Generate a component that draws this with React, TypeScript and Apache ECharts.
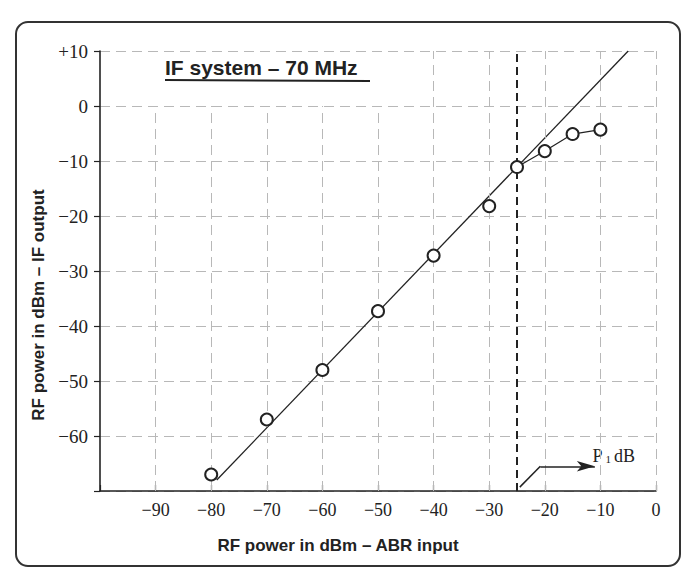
import React, { useEffect, useRef } from "react";
import * as echarts from "echarts";

// Measured points (RF input dBm, IF output dBm)
const inputDbm = [-80, -70, -60, -50, -40, -30, -25, -20, -15, -10];
const outputDbm = [-67, -57, -48, -37.3, -27.2, -18.2, -11.1, -8.2, -5.1, -4.3];
// Ideal linear response (end points of the straight line)
const linearX = [-79, -5];
const linearY = [-68, 10];
// Compression curve: indices of measured points joined by a line
const compressionFrom = 6;
// 1 dB compression point marker
const p1dbX = -25;
// arrow pointing to P1dB label
const arrowX = [-24.5, -20.8, -11];
const arrowY = [-69.3, -65.5, -65.5];
const p1dbLabelPos = [-7.6, -63.6];
// grid
const gridXs = [-90, -80, -70, -60, -50, -40, -30, -20, -10, 0];
const gridXTopShort = 0; // verticals left of -40 stop at 0 dB (under the title)
const gridXTopLong = 10;

const serif = '"Liberation Serif", "Times New Roman", Times, serif';
const sans = '"Liberation Sans", Arial, Helvetica, sans-serif';
const ink = "#222";

const minusFmt = (v: number) => (v < 0 ? "\u2212" + Math.abs(v) : String(v));

export default function App() {
  const ref = useRef<HTMLDivElement>(null);
  useEffect(() => {
    if (!ref.current) return;
    const chart = echarts.init(ref.current, undefined, { renderer: "svg" });
    const measured = inputDbm.map((x, i) => [x, outputDbm[i]]);
    const compression = measured.slice(compressionFrom);
    const linear = linearX.map((x, i) => [x, linearY[i]]);
    const gridSegs = gridXs.map((x) => [
      { coord: [x, -70] },
      { coord: [x, x < -40 ? gridXTopShort : gridXTopLong] },
    ]);
    const arrowPts = arrowX.map((x, i) => [x, arrowY[i]]);

    chart.setOption({
      animation: false,
      backgroundColor: "#fff",
      grid: { left: 100, right: 31, top: 51, bottom: 86 },
      xAxis: {
        type: "value",
        min: -100,
        max: 0,
        interval: 10,
        axisLine: { show: true, onZero: false, lineStyle: { color: ink, width: 1.6 } },
        axisTick: { show: true, inside: true, length: 6, lineStyle: { color: ink, width: 1.2 } },
        axisLabel: {
          color: ink,
          fontFamily: serif,
          fontSize: 18,
          margin: 10,
          formatter: (v: number) => (v === -100 ? "" : minusFmt(v)),
        },
        splitLine: { show: false },
      },
      yAxis: {
        type: "value",
        min: -70,
        max: 10,
        interval: 10,
        axisLine: { show: true, onZero: false, lineStyle: { color: ink, width: 1.6 } },
        axisTick: { show: true, inside: false, length: 6, lineStyle: { color: ink, width: 1.2 } },
        axisLabel: {
          color: ink,
          fontFamily: serif,
          fontSize: 19,
          margin: 12,
          formatter: (v: number) => (v === -70 ? "" : v > 0 ? "+" + v : minusFmt(v)),
        },
        splitLine: { show: true, lineStyle: { color: "#b8b8b8", width: 1, type: [10, 6] } },
      },
      graphic: [
        {
          type: "rect",
          shape: { x: 16, y: 22, width: 664, height: 544, r: 12 },
          style: { fill: "none", stroke: "#333", lineWidth: 2 },
          z: 0,
        },
        {
          type: "text",
          x: 165,
          y: 67,
          style: {
            text: "IF system \u2013 70 MHz",
            fontFamily: sans,
            fontWeight: "bold",
            fontSize: 21,
            fill: ink,
            align: "left",
            verticalAlign: "middle",
          },
        },
        {
          type: "line",
          shape: { x1: 165, y1: 80, x2: 370, y2: 81 },
          style: { stroke: ink, lineWidth: 2 },
        },
        {
          type: "text",
          x: 338,
          y: 545,
          style: {
            text: "RF power in dBm \u2013 ABR input",
            fontFamily: sans,
            fontWeight: "bold",
            fontSize: 17,
            fill: ink,
            align: "center",
            verticalAlign: "middle",
          },
        },
        {
          type: "text",
          x: 38,
          y: 305,
          rotation: Math.PI / 2,
          style: {
            text: "RF power in dBm \u2013 IF output",
            fontFamily: sans,
            fontWeight: "bold",
            fontSize: 17,
            fill: ink,
            align: "center",
            verticalAlign: "middle",
          },
        },
      ],
      series: [
        {
          type: "line",
          data: [],
          silent: true,
          markLine: {
            silent: true,
            symbol: ["none", "none"],
            label: { show: false },
            lineStyle: { color: "#b8b8b8", width: 1, type: [10, 6] },
            data: gridSegs,
          },
          z: 1,
        },
        {
          type: "line",
          data: [],
          silent: true,
          markLine: {
            silent: true,
            symbol: ["none", "none"],
            label: { show: false },
            lineStyle: { color: ink, width: 2, type: [8, 5] },
            data: [[{ coord: [p1dbX, -70] }, { coord: [p1dbX, 10] }]],
          },
          z: 3,
        },
        {
          type: "line",
          data: [],
          silent: true,
          markLine: {
            silent: true,
            symbol: ["none", "none"],
            label: { show: false },
            lineStyle: { color: ink, width: 1.5, type: "solid" },
            data: [
              [{ coord: arrowPts[0] }, { coord: arrowPts[1] }],
              [
                { coord: arrowPts[1] },
                { coord: arrowPts[2], symbol: "arrow", symbolSize: [8, 18] },
              ],
            ],
          },
          z: 3,
        },
        {
          type: "scatter",
          data: [p1dbLabelPos],
          symbolSize: 0,
          silent: true,
          itemStyle: { opacity: 1, color: ink },
          label: {
            show: true,
            position: "inside",
            opacity: 1,
            formatter: "{a|P}{b|1}{a|dB}",
            rich: {
              a: { fontFamily: serif, fontSize: 18, color: ink },
              b: { fontFamily: serif, fontSize: 11, color: ink, padding: [6, 3, 0, 3] },
            },
          },
          z: 3,
        },
        {
          type: "line",
          data: linear,
          symbol: "none",
          lineStyle: { color: ink, width: 1.3 },
          z: 4,
        },
        {
          type: "line",
          data: compression,
          symbol: "none",
          lineStyle: { color: ink, width: 1.2 },
          z: 4,
        },
        {
          type: "scatter",
          data: measured,
          symbol: "emptyCircle",
          symbolSize: 12,
          itemStyle: { color: ink, borderColor: ink, borderWidth: 1.4, opacity: 1 },
          z: 5,
        },
      ],
    });
    return () => chart.dispose();
  }, []);
  return (
    <div
      ref={ref}
      style={{ position: "fixed", left: 0, top: 0, width: 687, height: 577 }}
    />
  );
}
